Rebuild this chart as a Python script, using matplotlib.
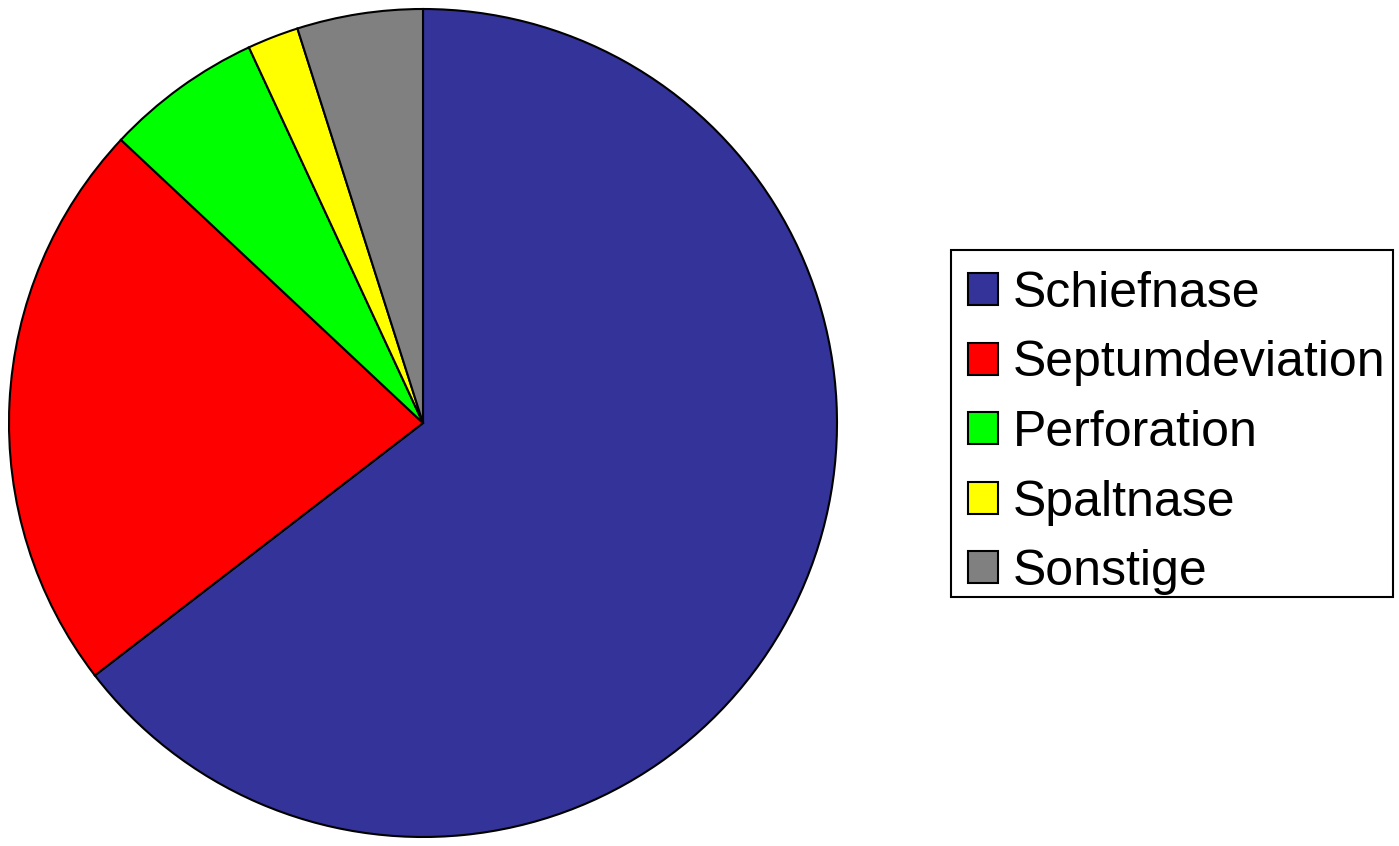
import matplotlib.pyplot as plt
from matplotlib.patches import Patch, Rectangle

plt.rcParams['font.family'] = ['Liberation Sans', 'DejaVu Sans']

# Data (percent shares)
labels = ['Schiefnase', 'Septumdeviation', 'Perforation', 'Spaltnase', 'Sonstige']
values = [64.5, 22.4, 6.1, 2.0, 4.9]
colors = ['#333399', '#ff0000', '#00ff00', '#ffff00', '#808080']

W, H = 1399, 846
fig = plt.figure(figsize=(W / 100, H / 100), dpi=100)
ax = fig.add_axes([9 / W, 9 / H, 828 / W, 828 / H])

wedges, _ = ax.pie(values, colors=colors, startangle=90, counterclock=False,
                   radius=1.0, wedgeprops=dict(edgecolor='black', linewidth=1.5))
ax.set_xlim(-1, 1)
ax.set_ylim(-1, 1)
ax.set_aspect('equal')
ax.axis('off')

# legend frame drawn separately so padding can differ per side
fig.patches.append(Rectangle((951 / W, 1 - 597 / H), 442 / W, 347 / H,
                             transform=fig.transFigure, facecolor='white',
                             edgecolor='black', linewidth=1.5, zorder=0))

handles = [Patch(facecolor=c, edgecolor='black', linewidth=1.5) for c in colors]
leg = fig.legend(handles, labels, loc='upper left',
                 bbox_to_anchor=(968 / W, 1 - 271 / H),
                 fontsize=36, frameon=False,
                 handlelength=0.6, handleheight=0.6, handletextpad=0.3,
                 labelspacing=0.47, borderpad=0, borderaxespad=0)

plt.savefig('out.png', dpi=100, facecolor='white')
